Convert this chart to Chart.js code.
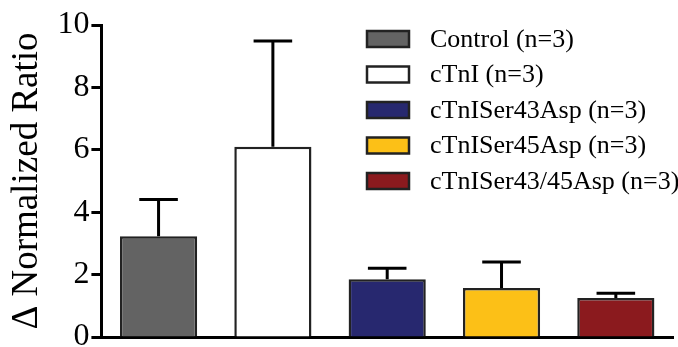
<!DOCTYPE html>
<html>
<head>
<meta charset="utf-8">
<script src="https://cdn.jsdelivr.net/npm/chart.js@4/dist/chart.umd.min.js"></script>
<style>
  html, body { margin: 0; padding: 0; background: #fff; }
  #wrap { width: 678px; height: 347px; }
</style>
</head>
<body>
<div id="wrap"><canvas id="myChart" width="678" height="347"></canvas></div>
<script>
var groups = ['Control (n=3)', 'cTnI (n=3)', 'cTnISer43Asp (n=3)', 'cTnISer45Asp (n=3)', 'cTnISer43/45Asp (n=3)'];
var means = [3.23, 6.10, 1.85, 1.57, 1.25];
var sem = [1.18, 3.39, 0.35, 0.83, 0.15];
var yTicks = [0, 2, 4, 6, 8, 10];
var colors = ['#636363', '#ffffff', '#27286f', '#fcc017', '#8b1a1e'];

var serif = '"Liberation Serif", "Times New Roman", serif';
Chart.defaults.font.family = serif;
Chart.defaults.color = '#000';

// upward-only error bars with a cap
var errorBars = {
    id: 'errorBars',
    afterDatasetsDraw: function(chart) {
        var ctx = chart.ctx;
        var y = chart.scales.y;
        var meta = chart.getDatasetMeta(0);
        ctx.save();
        ctx.strokeStyle = '#000';
        ctx.lineWidth = 3;
        meta.data.forEach(function(bar, i) {
            var top = y.getPixelForValue(means[i] + sem[i]);
            var half = bar.width / 4;
            ctx.beginPath();
            ctx.moveTo(bar.x, bar.y);
            ctx.lineTo(bar.x, top);
            ctx.moveTo(bar.x - half, top);
            ctx.lineTo(bar.x + half, top);
            ctx.stroke();
        });
        ctx.restore();
    }
};

// legend drawn inside the plot, top right
var boxLegend = {
    id: 'boxLegend',
    afterDraw: function(chart) {
        var ctx = chart.ctx;
        var x0 = 367, y0 = 31, rowH = 35.5, bw = 42, bh = 16;
        ctx.save();
        ctx.font = '26px ' + serif;
        ctx.textBaseline = 'middle';
        groups.forEach(function(g, i) {
            var yy = y0 + i * rowH;
            ctx.fillStyle = colors[i];
            ctx.fillRect(x0, yy, bw, bh);
            ctx.lineWidth = 2.5;
            ctx.strokeStyle = '#222';
            ctx.strokeRect(x0, yy, bw, bh);
            ctx.fillStyle = '#000';
            ctx.fillText(g, 430, yy + bh / 2 + 1);
        });
        ctx.restore();
    }
};

var ctx = document.getElementById('myChart').getContext('2d');
var myChart = new Chart(ctx, {
    type: 'bar',
    data: {
        labels: groups,
        datasets: [{
            data: means,
            backgroundColor: colors,
            borderColor: '#222',
            borderWidth: 2.5,
            borderSkipped: 'bottom',
            categoryPercentage: 1,
            barPercentage: 0.675
        }]
    },
    options: {
        responsive: false,
        animation: false,
        layout: { padding: { top: 25, right: 5, bottom: 2, left: 0 } },
        plugins: {
            legend: { display: false },
            tooltip: { enabled: false }
        },
        scales: {
            x: {
                grid: { display: false },
                ticks: { display: false },
                border: { display: true, color: '#000', width: 3 }
            },
            y: {
                min: 0,
                max: 10,
                afterBuildTicks: function(axis) {
                    axis.ticks = yTicks.map(function(v) { return { value: v }; });
                },
                grid: {
                    drawOnChartArea: false,
                    drawTicks: true,
                    tickLength: 10,
                    tickColor: '#000',
                    tickWidth: 3
                },
                border: { display: true, color: '#000', width: 3 },
                ticks: {
                    color: '#000',
                    padding: 2,
                    font: { family: serif, size: 32, lineHeight: 0.5 }
                },
                title: {
                    display: true,
                    text: '\u0394 Normalized Ratio',
                    color: '#000',
                    padding: { top: 5, bottom: 6 },
                    font: { family: serif, size: 37 }
                }
            }
        }
    },
    plugins: [errorBars, boxLegend]
});
</script>
</body>
</html>
